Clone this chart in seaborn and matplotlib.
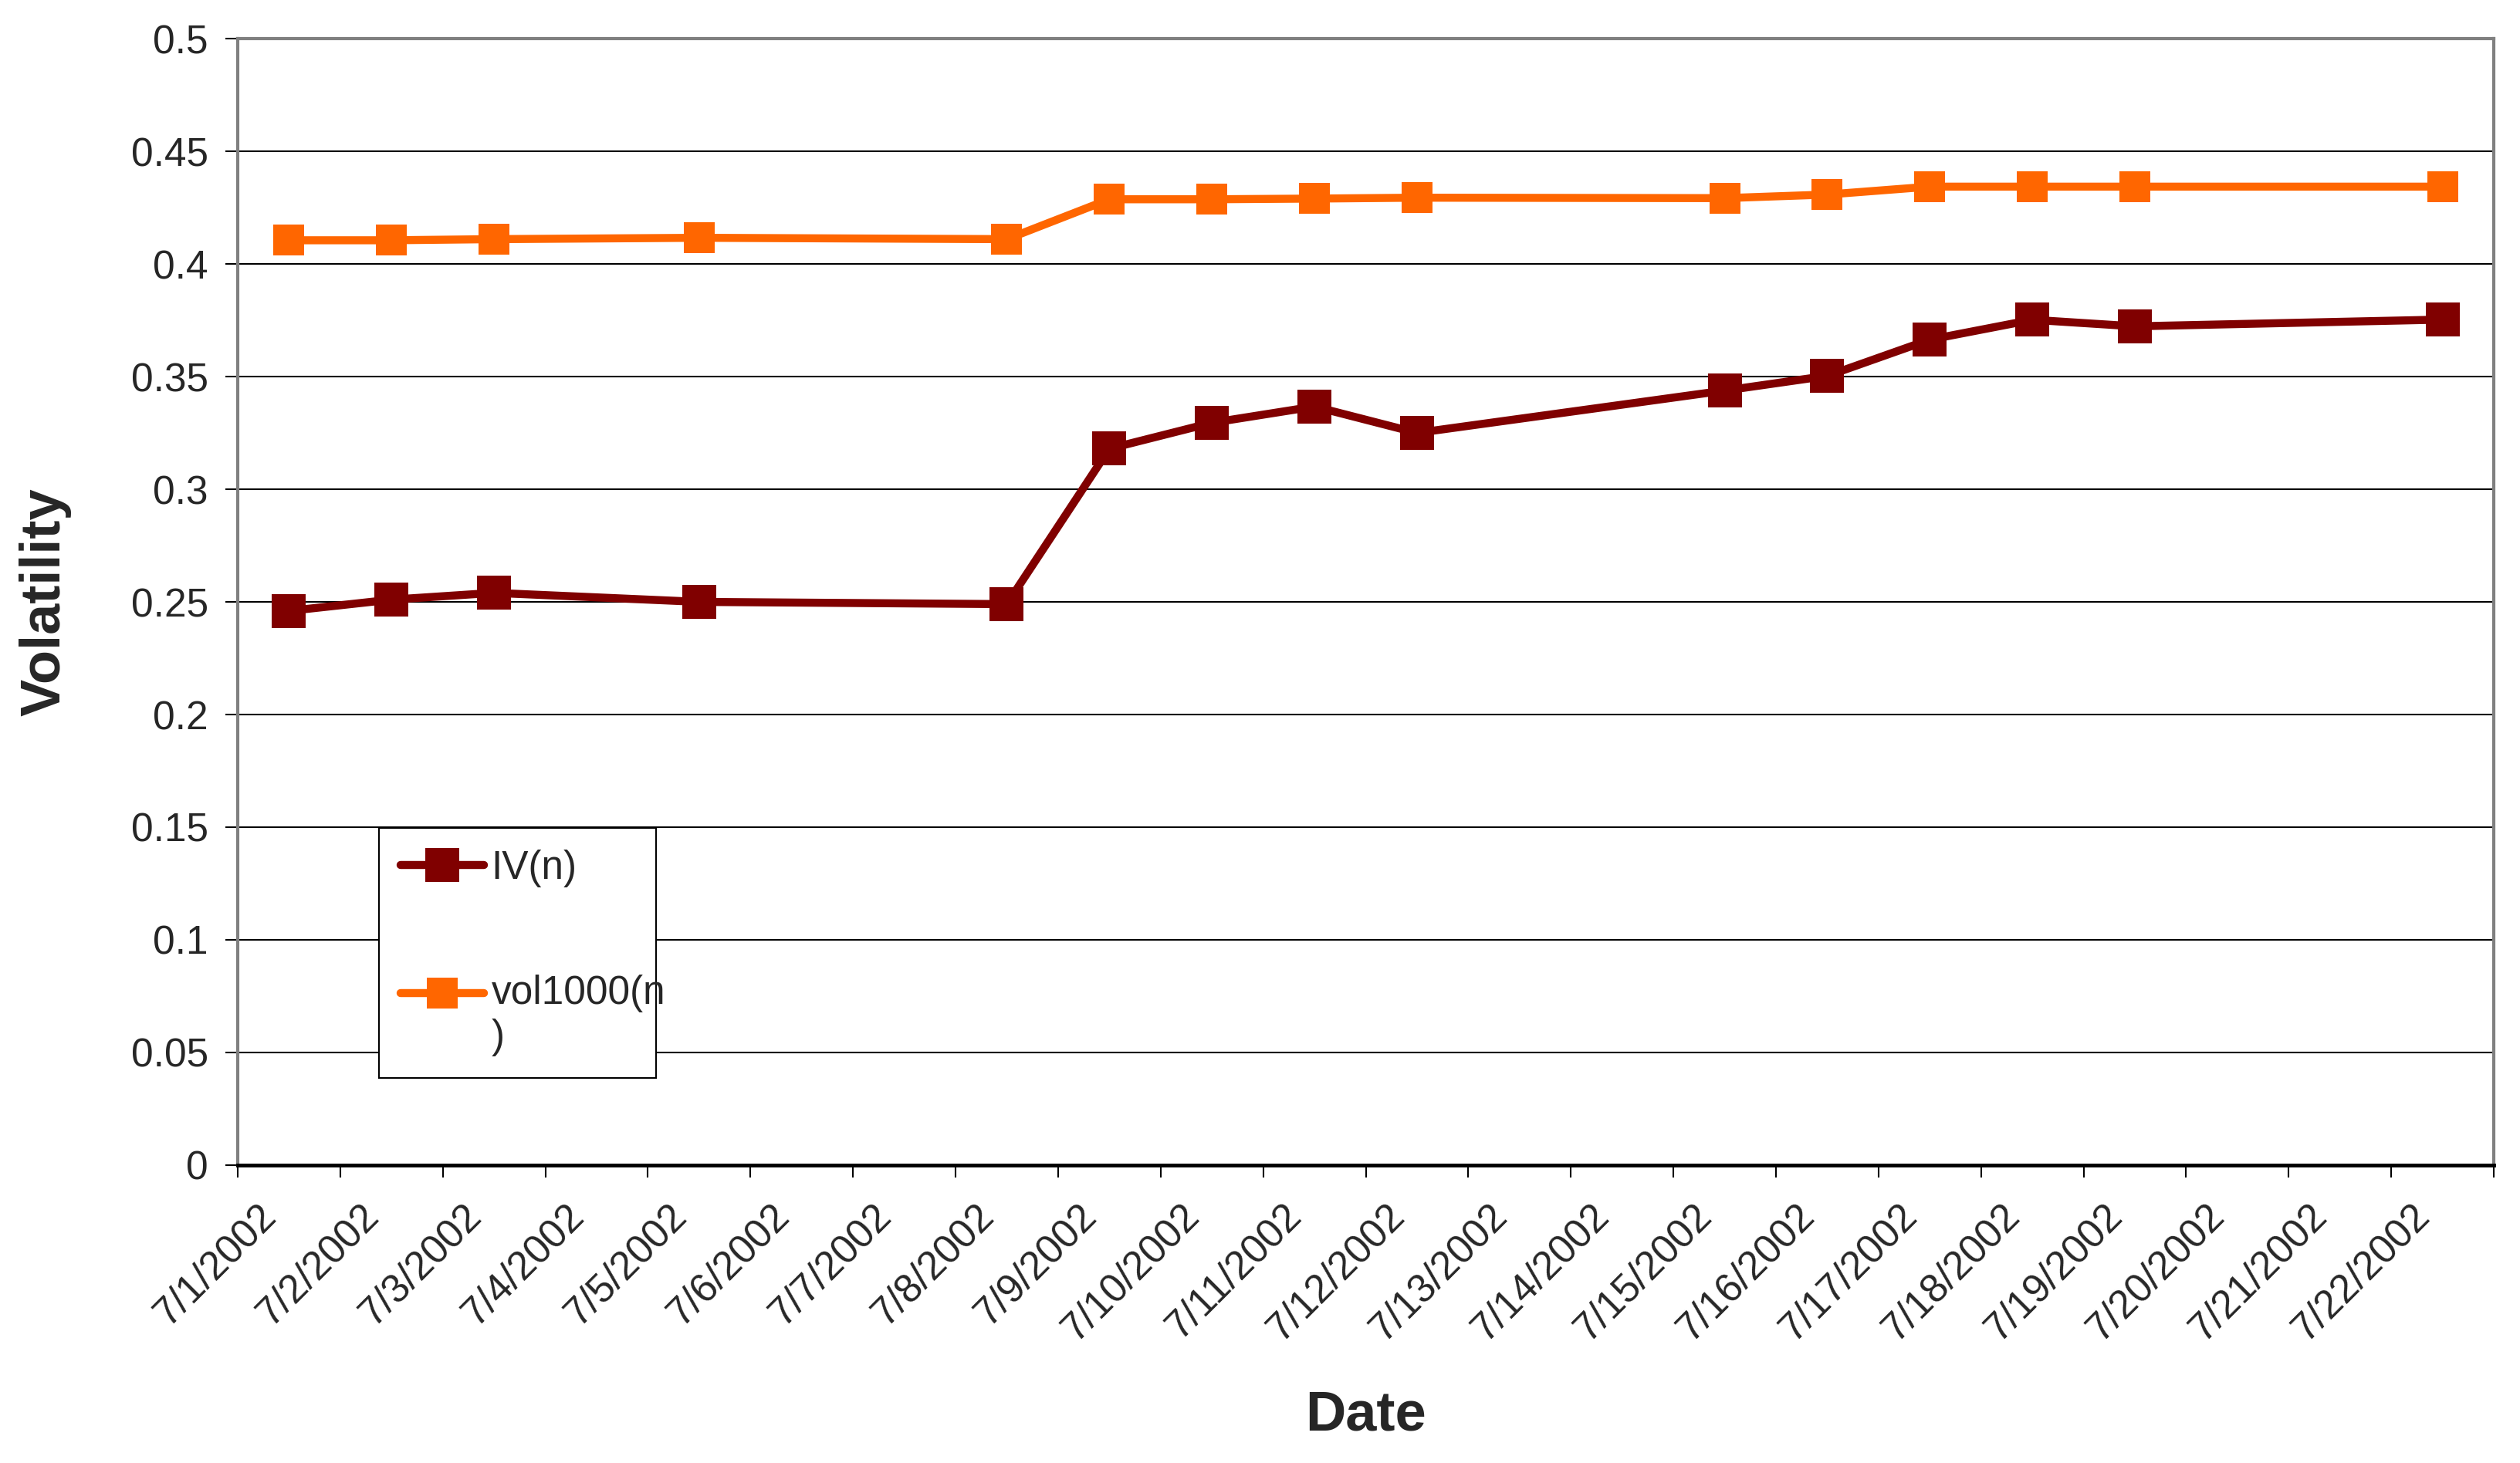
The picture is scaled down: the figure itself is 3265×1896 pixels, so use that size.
import pandas as pd
import matplotlib
matplotlib.use("Agg")
import matplotlib.pyplot as plt
import matplotlib.transforms as mtransforms
import seaborn as sns

# data
dates = ["2002-07-01", "2002-07-02", "2002-07-03", "2002-07-05", "2002-07-08",
         "2002-07-09", "2002-07-10", "2002-07-11", "2002-07-12", "2002-07-15",
         "2002-07-16", "2002-07-17", "2002-07-18", "2002-07-19", "2002-07-22"]
iv = [0.246, 0.251, 0.254, 0.250, 0.249,
      0.318, 0.3295, 0.3367, 0.325, 0.3438,
      0.3503, 0.3664, 0.3752, 0.3723, 0.3753]
vol1000 = [0.4105, 0.4105, 0.411, 0.4116, 0.411,
           0.4287, 0.4287, 0.4290, 0.4294, 0.4292,
           0.4308, 0.4343, 0.4343, 0.4343, 0.4343]
tick_days = pd.date_range("2002-07-01", "2002-07-23", freq="D")
y_ticks = [0, 0.05, 0.1, 0.15, 0.2, 0.25, 0.3, 0.35, 0.4, 0.45, 0.5]
y_labels = ["0", "0.05", "0.1", "0.15", "0.2", "0.25", "0.3", "0.35", "0.4", "0.45", "0.5"]

# Excel draws each day's point in the middle of its day slot
x = pd.to_datetime(dates) + pd.Timedelta(hours=12)
df = pd.DataFrame({"date": x, "IV(n)": iv, "vol1000(n)": vol1000})

sns.set_style("white")
plt.rcParams["font.family"] = ["Liberation Sans", "DejaVu Sans"]

fig = plt.figure(figsize=(32.66, 18.96), dpi=100)
ax = fig.add_axes([0.0943, 0.2036, 0.8950, 0.7700])

sns.lineplot(data=df, x="date", y="IV(n)", ax=ax, color="#800000", linewidth=7.5,
             marker="s", markersize=32, markeredgewidth=0, label="IV(n)")
sns.lineplot(data=df, x="date", y="vol1000(n)", ax=ax, color="#FF6600", linewidth=7.5,
             marker="s", markersize=29, markeredgewidth=0, label="vol1000(n\n)")

ax.set_ylim(0, 0.5)
ax.set_xlim(tick_days[0], tick_days[-1])
ax.set_yticks(y_ticks)
ax.set_yticklabels(y_labels)
ax.set_xticks(tick_days)
ax.set_xticklabels([f"{d.month}/{d.day}/{d.year}" if i < len(tick_days) - 1 else ""
                    for i, d in enumerate(tick_days)])

ax.yaxis.grid(True, color="black", linewidth=1.5)
ax.xaxis.grid(False)
ax.set_axisbelow(True)

for side in ["left", "top", "right"]:
    ax.spines[side].set_color("#808080")
    ax.spines[side].set_linewidth(3)
ax.spines["bottom"].set_color("black")
ax.spines["bottom"].set_linewidth(3.5)

ax.tick_params(axis="y", direction="out", length=11.5, width=1.5, color="black",
               left=True, labelsize=37, pad=16)
ax.tick_params(axis="x", direction="out", length=11.5, width=1.5, color="black",
               bottom=True, labelsize=37, pad=18)
for lab in ax.get_xticklabels():
    lab.set_rotation(45)
    lab.set_ha("right")
    lab.set_va("top")
    lab.set_rotation_mode("anchor")
offset = mtransforms.ScaledTranslation(0.25, 0, fig.dpi_scale_trans)
for lab in ax.xaxis.get_majorticklabels():
    lab.set_transform(lab.get_transform() + offset)

ax.set_xlabel("Date", fontsize=52, fontweight="bold", va="center")
ax.xaxis.set_label_coords(0.5, -0.2226)
ax.set_ylabel("Volatility", fontsize=52, fontweight="bold", va="center")
ax.yaxis.set_label_coords(-0.0855, 0.5)

leg = ax.legend(loc="upper left", bbox_to_anchor=(0.0626, 0.0815, 0.1228, 0.2178),
                mode="expand", borderaxespad=0, fontsize=37, frameon=True,
                fancybox=False, edgecolor="black", framealpha=1,
                handlelength=2.1, handletextpad=0.18, labelspacing=2.2,
                borderpad=0.55, numpoints=1)
leg.get_frame().set_linewidth(1.5)
# Excel keeps the key beside the first line of a wrapped label
second = leg.get_lines()[1]
second.set_ydata(second.get_ydata() + 22)

fig.savefig("out.png", dpi=100)
plt.close(fig)
